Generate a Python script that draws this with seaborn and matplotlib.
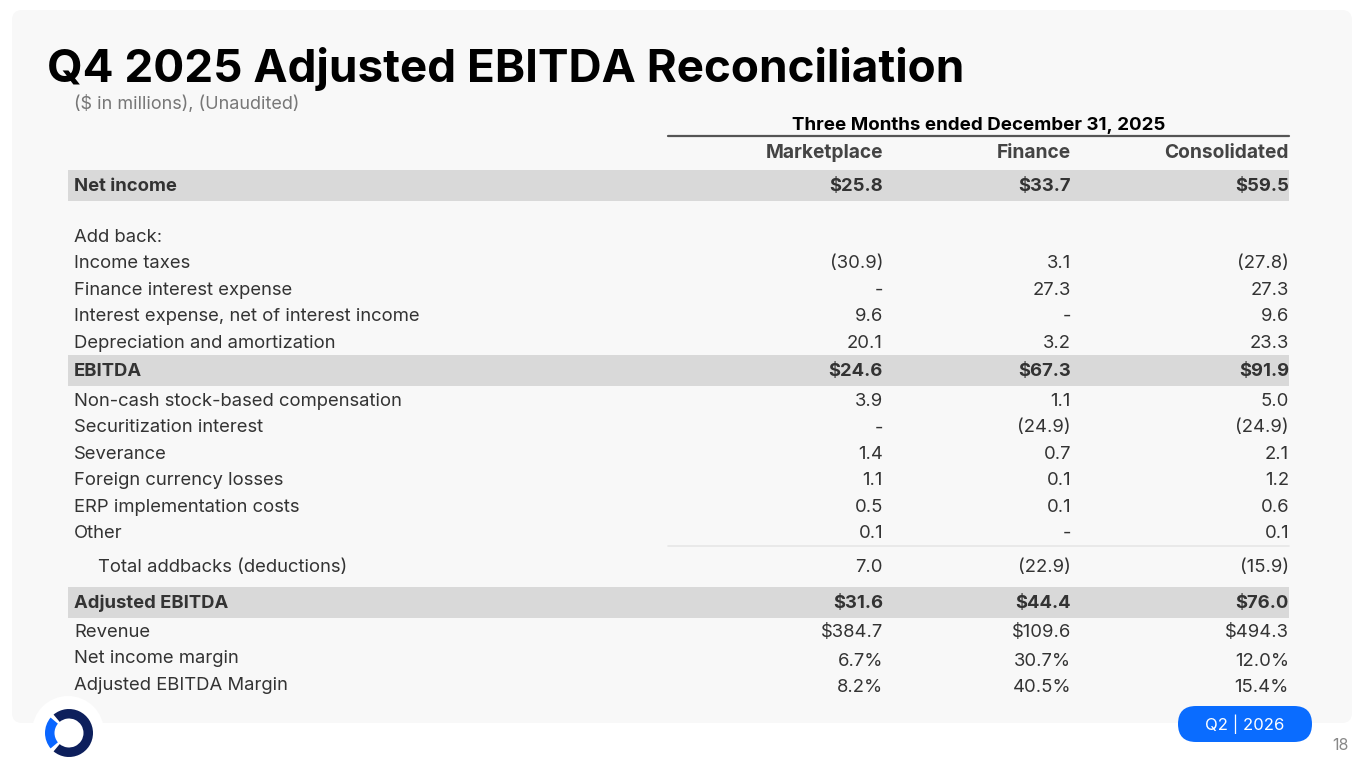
import numpy as np
import matplotlib.pyplot as plt
import seaborn as sns
from matplotlib.patches import FancyBboxPatch, Rectangle, Wedge, Circle

# table data
labels = ["Net income", "", "Add back:", "Income taxes", "Finance interest expense",
          "Interest expense, net of interest income", "Depreciation and amortization",
          "EBITDA", "Non-cash stock-based compensation", "Securitization interest",
          "Severance", "Foreign currency losses", "ERP implementation costs", "Other",
          "Total addbacks (deductions)", "Adjusted EBITDA", "Revenue",
          "Net income margin", "Adjusted EBITDA Margin"]
marketplace = ["$25.8", "", "", "(30.9)", "-", "9.6", "20.1", "$24.6", "3.9", "-",
               "1.4", "1.1", "0.5", "0.1", "7.0", "$31.6", "$384.7", "6.7%", "8.2%"]
finance = ["$33.7", "", "", "3.1", "27.3", "-", "3.2", "$67.3", "1.1", "(24.9)",
           "0.7", "0.1", "0.1", "-", "(22.9)", "$44.4", "$109.6", "30.7%", "40.5%"]
consolidated = ["$59.5", "", "", "(27.8)", "27.3", "9.6", "23.3", "$91.9", "5.0", "(24.9)",
                "2.1", "1.2", "0.6", "0.1", "(15.9)", "$76.0", "$494.3", "12.0%", "15.4%"]
bold_rows = ["Net income", "EBITDA", "Adjusted EBITDA"]
columns = ["Marketplace", "Finance", "Consolidated"]

title = "Q4 2025 Adjusted EBITDA Reconciliation"
subtitle = "($ in millions), (Unaudited)"
period = "Three Months ended December 31, 2025"

sns.set_theme(style="white")
plt.rcParams['font.family'] = ['Inter', 'DejaVu Sans']

fig = plt.figure(figsize=(13.65, 7.68), dpi=100)
ax = fig.add_axes([0, 0, 1, 1])
ax.set_xlim(0, 1365)
ax.set_ylim(768, 0)
ax.axis('off')

# slide panel
ax.add_patch(FancyBboxPatch((12, 10), 1340, 713, boxstyle="round,pad=0,rounding_size=10",
                            fc="#f8f8f8", ec="none"))

ax.text(47, 82, title, fontsize=33, fontweight='bold', color='black', va='baseline')
ax.text(74, 104, subtitle, fontsize=13, color='#777777', va='center')

col_x = [883, 1071, 1289]
tbl_left, tbl_right = 68, 1289
text_col = '#333333'
fs = 13.3

ax.text((668 + 1289) / 2, 125, period, fontsize=13.5, fontweight='bold', color='black',
        ha='center', va='center')
ax.plot([668, 1289], [135.5, 135.5], color='#555555', lw=1.6)
for x, c in zip(col_x, columns):
    ax.text(x, 153, c, fontsize=13.8, fontweight='bold', color='#444444', ha='right', va='center')

# row positions: gap before each row
gaps = [0, 25.5, 25.5, 26, 27, 26, 27, 28, 30, 26.4, 26.4, 26.4, 26.4, 26.4, 34, 36, 29, 26, 27]
ys = 186.5 + np.cumsum(gaps)

for i, (lab, m, f, c) in enumerate(zip(labels, marketplace, finance, consolidated)):
    y = ys[i]
    is_bold = lab in bold_rows
    if is_bold:
        ax.add_patch(Rectangle((tbl_left, y - 17), tbl_right - tbl_left, 31,
                               fc='#d9d9d9', ec='none'))
    lx = 98 if lab.startswith("Total") else 74
    w = 'bold' if is_bold else 'normal'
    ax.text(lx, y, lab, fontsize=fs, fontweight=w, color=text_col, va='center')
    dy = 2.5 if lab.endswith("argin") else 0
    for x, v in zip(col_x, [m, f, c]):
        ax.text(x, y + dy, v, fontsize=fs, fontweight=w, color=text_col, ha='right', va='center')
    if lab.startswith("Total"):
        ax.plot([668, 1289], [y - 21.5, y - 21.5], color='#e6e6e6', lw=1.2)

# logo
ax.add_patch(Circle((68, 732), 36, fc='white', ec='none'))
ax.add_patch(Wedge((69, 733), 24, -130, 130, width=9.5, fc='#0d1f5c', ec='none'))
ax.add_patch(Wedge((69, 733), 24, 140, 220, width=9.5, fc='#0a66ff', ec='none'))

# quarter pill and page number
ax.add_patch(FancyBboxPatch((1178, 706), 134, 36, boxstyle="round,pad=0,rounding_size=18",
                            fc='#0a6cff', ec='none'))
ax.text(1245, 724, "Q2 | 2026", fontsize=12, color='white', ha='center', va='center')
ax.text(1349, 746, "18", fontsize=11.5, color='#888888', ha='right', va='center')

fig.savefig('out.png', dpi=100, facecolor='white')
